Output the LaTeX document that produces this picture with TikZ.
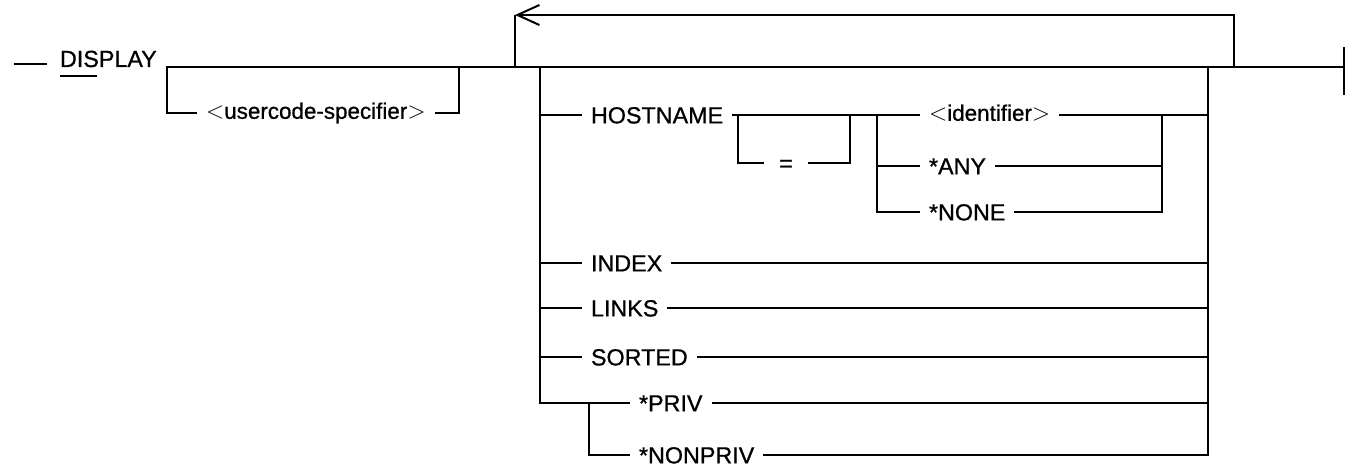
\documentclass[tikz,border=0pt]{standalone}
\usepackage{fontspec}
\setmainfont{Liberation Sans}
\newfontfamily\rrfont{Liberation Sans}[FakeBold=0.8]
\usetikzlibrary{arrows.meta}
\newcommand{\ang}[1]{{\fontsize{13}{13}\selectfont$#1$}}

\begin{document}
\begin{tikzpicture}[x=0.5pt,y=-0.5pt,line width=1pt,
    kw/.style={anchor=west,inner xsep=4pt,inner ysep=0pt,text height=8.4pt,text depth=0pt,font=\fontsize{11.66}{14}\rrfont},
    meta/.style={kw,text height=5.8pt,font=\fontsize{11.2}{14}\rrfont},
    loopback/.style={-{Straight Barb[length=11pt,width=10pt,line width=1pt]}}]
  \useasboundingbox (0,0) rectangle (1346,466);
  \coordinate (lead) at (14,64); \coordinate (leadend) at (47,64);
  \draw (lead) -- (leadend);
  \node[kw,anchor=base west] (disp) at (51,67) {DISPLAY};
  \coordinate (ula) at (60,76); \coordinate (ulb) at (97,76);
  \draw[line width=1.4pt] (ula) -- (ulb);
  \coordinate (exit) at (1344,67);
  \draw (disp.base east) -- (exit);
  \draw ([yshift=10pt]exit) -- ([yshift=-14pt]exit);

  \coordinate (uca) at (167,67); \coordinate (ucb) at (459,67);
  \node[meta] (uc) at (197,113) {\ang{<}usercode-specifier\ang{>}};
  \draw (uca) |- (uc.west);
  \draw (uc.east) -| (ucb);

  \coordinate (lpa) at (515,67); \coordinate (lpb) at (1234,67);
  \coordinate (lptop) at (515,15);
  \draw[loopback] (lpb) |- (lptop);
  \draw (lptop) -- (lpa);

  \coordinate (bl) at (540,67); \coordinate (br) at (1208,67);
  \node[kw] (host) at (582,115) {HOSTNAME};
  \coordinate (eqa) at (738,115); \coordinate (eqb) at (850,115);
  \coordinate (ch) at (877,115); \coordinate (chj) at (1162,115);
  \node[kw,anchor=center,inner xsep=7pt] (eq) at (786,163) {=};
  \draw (bl) |- (host.west);
  \draw (host.east) -- (ch);
  \draw (eqa) |- (eq.west);
  \draw (eq.east) -| (eqb);
  \node[meta] (idf) at (920,115) {\ang{<}identifier\ang{>}};
  \node[kw] (any) at (920,166) {*ANY};
  \node[kw] (none) at (920,212) {*NONE};
  \draw (ch) -- (idf.west);
  \draw (ch) |- (any.west);
  \draw (ch) |- (none.west);
  \draw (idf.east) -| (br);
  \draw (any.east) -| (chj);
  \draw (none.east) -| (chj);

  \node[kw] (idx) at (582,263) {INDEX};
  \node[kw] (lnk) at (582,308) {LINKS};
  \node[kw] (srt) at (582,357) {SORTED};
  \draw (bl) |- (idx.west);
  \draw (bl) |- (lnk.west);
  \draw (bl) |- (srt.west);
  \draw (idx.east) -| (br);
  \draw (lnk.east) -| (br);
  \draw (srt.east) -| (br);

  \coordinate (pj) at (589,403);
  \node[kw] (priv) at (630,403) {*PRIV};
  \node[kw] (npriv) at (630,455) {*NONPRIV};
  \draw (bl) |- (priv.west);
  \draw (pj) |- (npriv.west);
  \draw (priv.east) -| (br);
  \draw (npriv.east) -| (br);
\end{tikzpicture}
\end{document}
